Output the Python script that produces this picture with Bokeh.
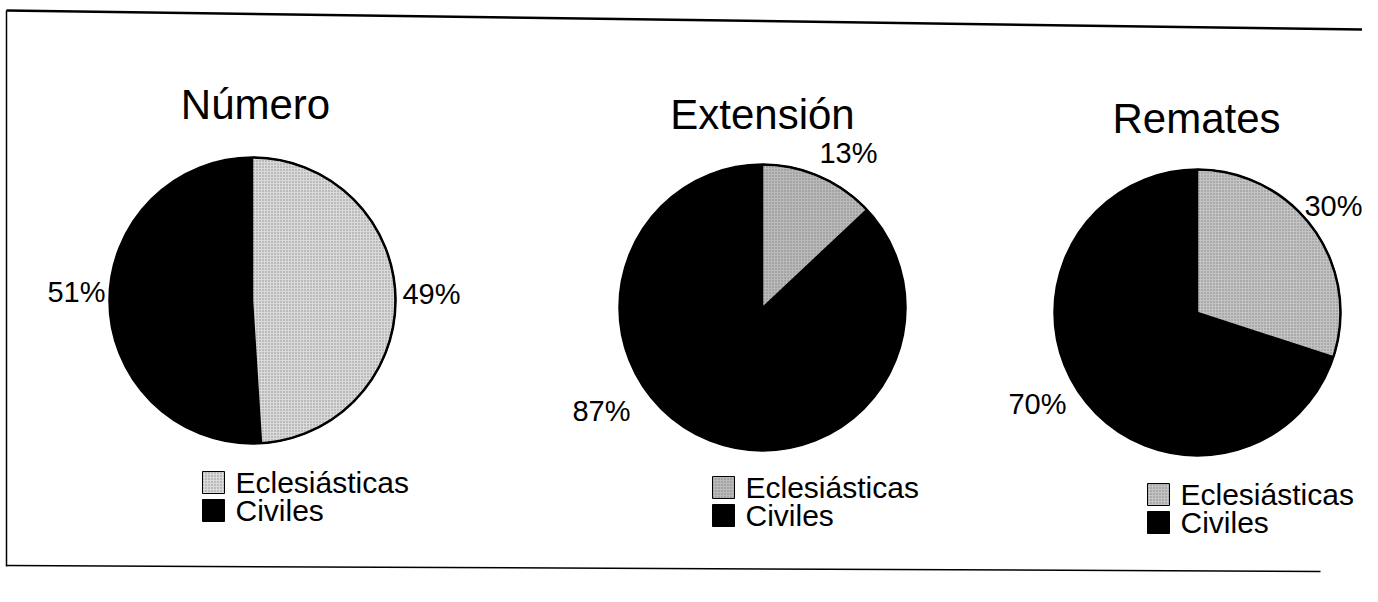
import math
from bokeh.plotting import figure
from bokeh.models import Range1d, ColumnDataSource
from bokeh.embed import file_html
from bokeh.resources import INLINE
from bokeh.core.properties import value

# ---- data ----
charts = ["Número", "Extensión", "Remates"]
categories = ["Eclesiásticas", "Civiles"]
eclesiasticas = [49, 13, 30]
civiles = [51, 87, 70]

# ---- layout (image pixel coordinates) ----
W, H = 1362, 586
centers_x = [252, 762, 1197]
centers_y = [300, 307, 312]
R = 143
title_pos = [(255, 104), (762, 114), (1196, 118)]
ecl_label_pos = [(431, 293), (848, 152), (1333, 205)]
civ_label_pos = [(76, 291), (601, 410), (1037, 403)]
legend_pos = [(213, 482), (723, 487), (1158, 494)]
legend_gap = 28
ecl_fill = ["#dadada", "#bababa", "#c4c4c4"]
FONT = value("Liberation Sans")


def Y(y):
    return H - y


p = figure(width=W, height=H, x_range=Range1d(0, W), y_range=Range1d(0, H),
           x_axis_type=None, y_axis_type=None, toolbar_location=None,
           output_backend="svg", min_border=0, outline_line_color=None,
           background_fill_color="white", border_fill_color="white")
p.xgrid.visible = False
p.ygrid.visible = False

# frame of the scanned box
p.line([6, 1362], [Y(10), Y(29)], line_color="black", line_width=2.5)
p.line([6, 6], [Y(10), Y(566)], line_color="black", line_width=1.5)
p.line([6, 1320], [Y(565), Y(571)], line_color="black", line_width=1.5)

# pies
ecl_frac = [e / (e + c) for e, c in zip(eclesiasticas, civiles)]
ecl_src = ColumnDataSource(dict(
    x=centers_x, y=[Y(v) for v in centers_y],
    start=[math.pi / 2 - 2 * math.pi * f for f in ecl_frac],
    end=[math.pi / 2] * 3,
    fill=ecl_fill,
))
civ_src = ColumnDataSource(dict(
    x=centers_x, y=[Y(v) for v in centers_y],
    start=[math.pi / 2] * 3,
    end=[math.pi / 2 - 2 * math.pi * f + 2 * math.pi for f in ecl_frac],
))
p.wedge(x="x", y="y", radius=R, start_angle="start", end_angle="end", source=civ_src,
        fill_color="black", line_color="black", line_width=1)
p.wedge(x="x", y="y", radius=R, start_angle="start", end_angle="end", source=ecl_src,
        fill_color="fill", line_color="black", line_width=1.5,
        hatch_pattern="dot", hatch_color="#555555", hatch_scale=3, hatch_weight=0.8, hatch_alpha=0.6)
p.circle(x="x", y="y", radius=R, source=ecl_src, fill_color=None,
         line_color="black", line_width=2.5)

# titles
p.text(x=[t[0] for t in title_pos], y=[Y(t[1]) for t in title_pos], text=charts,
       text_font=FONT, text_font_size="42px", text_align="center",
       text_baseline="alphabetic", text_color="black")

# percentage labels
lab_x = [q[0] for q in ecl_label_pos] + [q[0] for q in civ_label_pos]
lab_y = [Y(q[1]) for q in ecl_label_pos] + [Y(q[1]) for q in civ_label_pos]
lab_t = [f"{v}%" for v in eclesiasticas] + [f"{v}%" for v in civiles]
p.text(x=lab_x, y=lab_y, text=lab_t, text_font=FONT, text_font_size="29px",
       text_align="center", text_baseline="middle", text_color="black")

# legends
sq_x, sq_y, sq_fill, sq_hatch = [], [], [], []
tx, ty, tt = [], [], []
for i, (lx, ly) in enumerate(legend_pos):
    for j, cat in enumerate(categories):
        yy = Y(ly + j * legend_gap)
        sq_x.append(lx)
        sq_y.append(yy)
        sq_fill.append(ecl_fill[i] if j == 0 else "black")
        sq_hatch.append("dot" if j == 0 else " ")
        tx.append(lx + 22)
        ty.append(yy)
        tt.append(cat)
p.scatter(x=sq_x, y=sq_y, marker="square", size=22, fill_color=sq_fill,
          line_color="black", line_width=1, hatch_pattern=sq_hatch,
          hatch_color="#555555", hatch_scale=3, hatch_weight=0.8, hatch_alpha=0.6)
p.text(x=tx, y=ty, text=tt, text_font=FONT, text_font_size="30px",
       text_align="left", text_baseline="middle", text_color="black")

open("out.html", "w").write(file_html(p, INLINE))
